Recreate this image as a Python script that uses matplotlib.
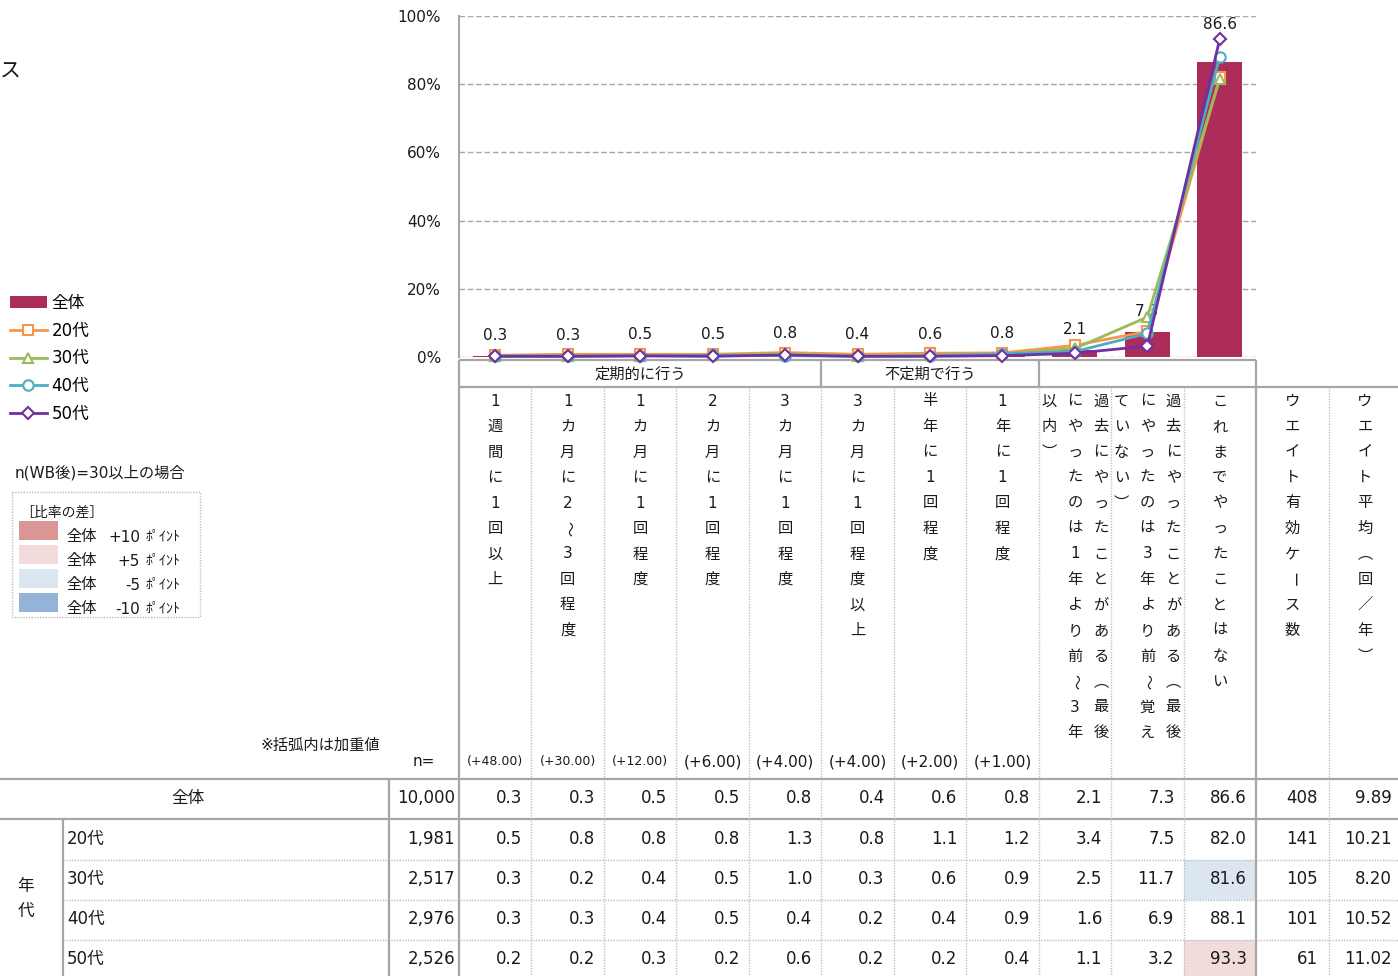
import matplotlib
matplotlib.use('Agg')
import matplotlib.pyplot as plt
from matplotlib.patches import Rectangle
import numpy as np

plt.rcParams['font.family'] = ['DejaVu Sans', 'Noto Sans CJK JP']

# ---- data ----
headers = ['1週間に1回以上', '1カ月に2～3回程度', '1カ月に1回程度', '2カ月に1回程度',
           '3カ月に1回程度', '3カ月に1回程度以上', '半年に1回程度', '1年に1回程度',
           '過去にやったことがある（最後にやったのは1年より前～3年以内）',
           '過去にやったことがある（最後にやったのは3年より前～覚えていない）',
           'これまでやったことはない', 'ウエイト有効ケース数', 'ウエイト平均（回／年）']
groups = [('定期的に行う', 0, 5), ('不定期で行う', 5, 8)]
weights = [48, 30, 12, 6, 4, 4, 2, 1]

row_labels = ['全体', '20代', '30代', '40代', '50代']
n_values = [10000, 1981, 2517, 2976, 2526]
total = [0.3, 0.3, 0.5, 0.5, 0.8, 0.4, 0.6, 0.8, 2.1, 7.3, 86.6]
age20 = [0.5, 0.8, 0.8, 0.8, 1.3, 0.8, 1.1, 1.2, 3.4, 7.5, 82.0]
age30 = [0.3, 0.2, 0.4, 0.5, 1.0, 0.3, 0.6, 0.9, 2.5, 11.7, 81.6]
age40 = [0.3, 0.3, 0.4, 0.5, 0.4, 0.2, 0.4, 0.9, 1.6, 6.9, 88.1]
age50 = [0.2, 0.2, 0.3, 0.2, 0.6, 0.2, 0.2, 0.4, 1.1, 3.2, 93.3]
weighted_n = [408, 141, 105, 101, 61]
weighted_avg = [9.89, 10.21, 8.20, 10.52, 11.02]

BAR = '#AD2D5A'
line_styles = [('20代', age20, '#F79646', 's', 7),
               ('30代', age30, '#9BBB59', '^', 7.5),
               ('40代', age40, '#4BACC6', 'o', 7.5),
               ('50代', age50, '#7030A0', 'D', 6)]
diff_colors = [(10, '#DA9694'), (5, '#F2DCDB'), (-5, '#DCE6F1'), (-10, '#95B3D7')]
GRAY = '#A6A6A6'
DOT = '#BFBFBF'
TXT = '#1A1A1A'

W, H = 1398, 976
fig = plt.figure(figsize=(W / 100, H / 100), dpi=100)
base = fig.add_axes([0, 0, 1, 1])
base.set_xlim(0, W)
base.set_ylim(H, 0)
base.axis('off')

# ---- chart ----
ax = fig.add_axes([459 / W, 1 - 357 / H, 797 / W, 341 / H])
x = np.arange(len(total))
bars = ax.bar(x, total, width=0.62, color=BAR, zorder=2, label='全体')
for i, v in enumerate(total):
    off = 27 if v > 50 else 15
    ax.annotate(f'{v:.1f}', (i, v), xytext=(0, off), textcoords='offset points',
                ha='center', va='center', fontsize=11, color=TXT)
handles = [bars]
for k, (name, vals, c, m, ms) in enumerate(line_styles):
    ln, = ax.plot(x, vals, color=c, lw=2, marker=m, ms=ms, mfc='white', mec=c,
                  mew=1.5, zorder=3 + k, clip_on=False, label=name)
    handles.append(ln)

ax.set_xlim(-0.5, len(total) - 0.5)
ax.set_ylim(0, 100)
ax.set_yticks(range(0, 101, 20))
ax.set_yticklabels([f'{v}%' for v in range(0, 101, 20)], fontsize=11, color=TXT)
ax.set_xticks([])
ax.tick_params(axis='y', length=0, pad=13)
ax.yaxis.grid(True, linestyle=(0, (4, 2)), color=GRAY, lw=1)
ax.set_axisbelow(True)
for s in ['top', 'right', 'bottom']:
    ax.spines[s].set_visible(False)
ax.spines['left'].set_color(GRAY)
ax.spines['left'].set_linewidth(1.5)
ax.patch.set_alpha(0)

fig.legend(handles=handles, labels=[h.get_label() for h in handles],
           loc='upper left', bbox_to_anchor=(10 / W, 1 - 294 / H),
           frameon=False, fontsize=12, borderpad=0, borderaxespad=0,
           handlelength=2.2, handletextpad=0.3, labelspacing=0.58)

# ---- table ----
col_w = 797 / 11
edges = [459 + i * col_w for i in range(12)] + [1329, 1401]
rows_y = [798, 839, 879, 919, 959]
row_edges = [779, 819, 860, 900, 940, 980]


def hline(y, x0, x1, thick=True):
    if thick:
        base.plot([x0, x1], [y, y], color=GRAY, lw=1.6, solid_capstyle='butt')
    else:
        base.plot([x0, x1], [y, y], color=DOT, lw=1, linestyle=(0, (1, 1)))


def vline(xv, y0, y1, thick=True):
    if thick:
        base.plot([xv, xv], [y0, y1], color=GRAY, lw=1.6, solid_capstyle='butt')
    else:
        base.plot([xv, xv], [y0, y1], color=DOT, lw=1, linestyle=(0, (1, 1)))


# highlight cells (difference from total)
age_rows = [age20, age30, age40, age50]
for r, vals in enumerate(age_rows):
    for j, v in enumerate(vals):
        d = v - total[j]
        col = None
        if d >= 10:
            col = diff_colors[0][1]
        elif d >= 5:
            col = diff_colors[1][1]
        elif d <= -10:
            col = diff_colors[3][1]
        elif d <= -5:
            col = diff_colors[2][1]
        if col:
            base.add_patch(Rectangle((edges[j], row_edges[r + 1]), col_w,
                                     row_edges[r + 2] - row_edges[r + 1],
                                     color=col, zorder=0, lw=0))

hline(360, 459, 1256)
hline(387, 459, 1401)
hline(779, 0, 1401)
hline(819, 0, 1401)
for y in row_edges[2:5]:
    hline(y, 63, 1401, thick=False)
vline(459, 360, 976)
vline(1256, 360, 976)
vline(389, 779, 976)
vline(63, 819, 976)
for name, a, b in groups:
    vline(edges[b], 360, 387)
    base.text((edges[a] + edges[b]) / 2, 374, name, ha='center', va='center',
              fontsize=11, color=TXT)
for j, e in enumerate(edges[1:-1]):
    if abs(e - 1256) > 1:
        vline(e, 387, 976, thick=False)

# vertical header text
rot_chars = {'ー': -90, '～': -90}
vert_map = {'（': '︵', '）': '︶'}
for j, h in enumerate(headers):
    chunks = [h[i:i + 14] for i in range(0, len(h), 14)]
    cx = (edges[j] + edges[j + 1]) / 2
    n = len(chunks)
    for c, chunk in enumerate(chunks):
        sx = cx + (n - 1) / 2 * 26 - c * 26
        for k, ch in enumerate(chunk):
            base.text(sx, 401 + k * 25.5, vert_map.get(ch, ch), ha='center',
                      va='center', fontsize=11, color=TXT,
                      rotation=rot_chars.get(ch, 0))

for j, w in enumerate(weights):
    s = f'(+{w:.2f})'
    base.text((edges[j] + edges[j + 1]) / 2, 762, s, ha='center', va='center',
              fontsize=9 if len(s) > 7 else 11, color=TXT)
base.text(424, 762, 'n=', ha='center', va='center', fontsize=11, color=TXT)
base.text(380, 745, '※括弧内は加重値', ha='right', va='center', fontsize=11, color=TXT)

# body
all_rows = [total] + age_rows
for r, vals in enumerate(all_rows):
    y = rows_y[r]
    if r == 0:
        base.text(188, y, row_labels[r], ha='center', va='center', fontsize=12, color=TXT)
    else:
        base.text(67, y, row_labels[r], ha='left', va='center', fontsize=12, color=TXT)
    base.text(455, y, f'{n_values[r]:,}', ha='right', va='center', fontsize=12, color=TXT)
    for j, v in enumerate(vals):
        base.text(edges[j + 1] - 9, y, f'{v:.1f}', ha='right', va='center',
                  fontsize=12, color=TXT)
    base.text(edges[12] - 11, y, f'{weighted_n[r]}', ha='right', va='center',
              fontsize=12, color=TXT)
    base.text(edges[13] - 9, y, f'{weighted_avg[r]:.2f}', ha='right', va='center',
              fontsize=12, color=TXT)
base.text(26, 886, '年', ha='center', va='center', fontsize=12, color=TXT)
base.text(26, 911, '代', ha='center', va='center', fontsize=12, color=TXT)

# ---- difference legend box ----
base.text(0, 72, 'ス', ha='left', va='center', fontsize=15, color=TXT)
base.text(15, 473, 'n(WB後)=30以上の場合', ha='left', va='center', fontsize=11, color=TXT)
base.add_patch(Rectangle((12, 492), 188, 125, fill=False, ec=DOT, lw=1,
                         linestyle=(0, (1, 1))))
base.text(20, 513, '［比率の差］', ha='left', va='center', fontsize=10, color=TXT)
for k, (d, c) in enumerate(diff_colors):
    y0 = 521 + k * 24
    base.add_patch(Rectangle((19, y0), 39, 19, color=c, lw=0))
    yt = y0 + 16
    base.text(66, yt, '全体', ha='left', va='center', fontsize=11, color=TXT)
    base.text(140, yt, f'{d:+d}' if d > 0 else f'{d:d}', ha='right', va='center',
              fontsize=11, color=TXT)
    base.text(146, yt, 'ﾎﾟｲﾝﾄ', ha='left', va='center', fontsize=10, color=TXT)

fig.savefig('out.png', dpi=100)
